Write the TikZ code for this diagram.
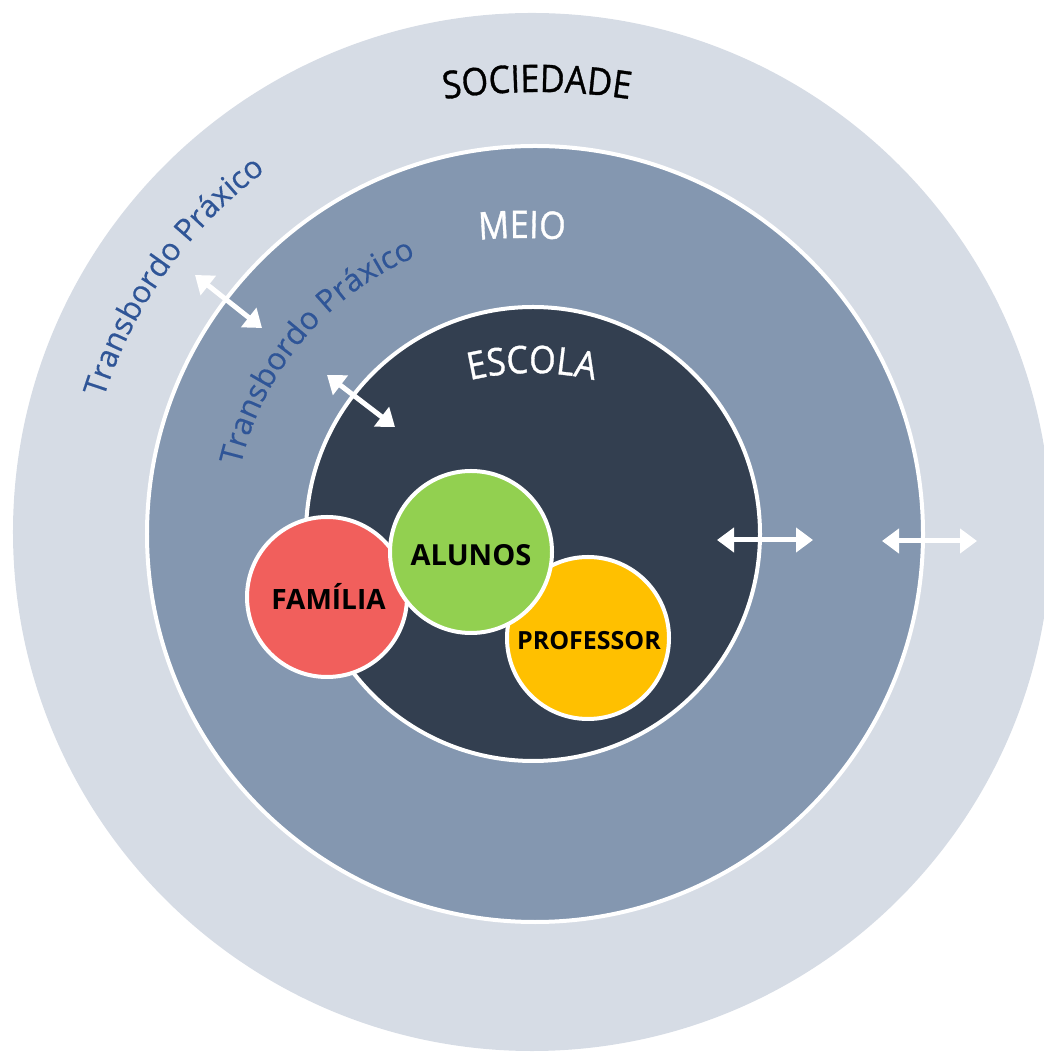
\documentclass[tikz,border=0pt]{standalone}
\usepackage{fontspec}
\setmainfont{Open Sans}
\newfontfamily\arcfont{Open Sans}[FakeBold=0.9, FakeStretch=0.9]
\newfontfamily\tbfont{Open Sans}[FakeBold=0.4]
\usetikzlibrary{arrows.meta,decorations.text}
\definecolor{socC}{HTML}{D6DCE5}
\definecolor{meioC}{HTML}{8497B0}
\definecolor{escC}{HTML}{333F50}
\definecolor{famC}{HTML}{F15F5C}
\definecolor{aluC}{HTML}{92D050}
\definecolor{profC}{HTML}{FFC000}
\definecolor{tbC}{HTML}{2F5597}
\begin{document}
\begin{tikzpicture}[x=1bp,y=1bp,
  disc/.style={circle, inner sep=0pt, outer sep=0pt},
  ring/.style={disc, draw=white, line width=4bp},
  lbl/.style={anchor=base, inner sep=0pt, font=\bfseries},
  dbl/.style={draw=white, line width=5bp,
    {Triangle[length=17bp,width=24bp]}-{Triangle[length=17bp,width=24bp]}},
  arctext/.style={decorate, decoration={text along path, text align=center, text={#1}}}]
\useasboundingbox (0,0) rectangle (1044,1053);
\clip (0,0) rectangle (1044,1053);
% rings
\node[disc, fill=socC, minimum size=1038bp] (soc) at (532,521) {};
\node[ring, fill=meioC, minimum size=776bp] (meio) at (535,519) {};
\node[ring, fill=escC, minimum size=454bp] (escola) at (533,519) {};
% ring titles
\path[arctext={|\arcfont\fontsize{38bp}{40bp}\selectfont\color{black}|SOCIEDADE}]
  (537,361) ++(105:600) arc[start angle=105, end angle=75, radius=600];
\path[arctext={|\arcfont\fontsize{38bp}{40bp}\selectfont\color{white}|MEIO}]
  (522,315) ++(100:500) arc[start angle=100, end angle=80, radius=500];
\path[arctext={|\arcfont\fontsize{38bp}{40bp}\selectfont\color{white}|ESCOLA}]
  (532,410) ++(110:270) arc[start angle=110, end angle=70, radius=270];
% Transbordo labels
\path[arctext={|\tbfont\fontsize{31bp}{34bp}\selectfont\color{tbC}|Transbordo Práxico}]
  (533,520) ++(169.5:450) arc[start angle=169.5, end angle=119.5, radius=450];
\path[arctext={|\tbfont\fontsize{31bp}{34bp}\selectfont\color{tbC}|Transbordo Práxico}]
  (533,520) ++(170:300) arc[start angle=170, end angle=110, radius=300];
% small circles
\node[ring, fill=famC, minimum size=160bp] (familia) at (327,456) {};
\node[ring, fill=profC, minimum size=162bp] (professor) at (588,415) {};
\node[ring, fill=aluC, minimum size=162bp] (alunos) at (471,501) {};
\node[lbl, font=\bfseries\fontsize{28bp}{30bp}\selectfont] (tfam) at (328.5,443) {FAMÍLIA};
\node[lbl, font=\bfseries\fontsize{29bp}{30bp}\selectfont] (talu) at (471,487) {ALUNOS};
\node[lbl, font=\bfseries\fontsize{25bp}{27bp}\selectfont] (tprof) at (589,403) {PROFESSOR};
% arrows
\coordinate (a1s) at (195,778); \coordinate (a1e) at (262,725);
\coordinate (a2s) at (327,678); \coordinate (a2e) at (395,626);
\coordinate (a3s) at (717,513); \coordinate (a3e) at (813,513);
\coordinate (a4s) at (882,512); \coordinate (a4e) at (977,512);
\draw[dbl] (a1s) -- (a1e);
\draw[dbl] (a2s) -- (a2e);
\draw[dbl] (a3s) -- (a3e);
\draw[dbl] (a4s) -- (a4e);
\end{tikzpicture}
\end{document}
